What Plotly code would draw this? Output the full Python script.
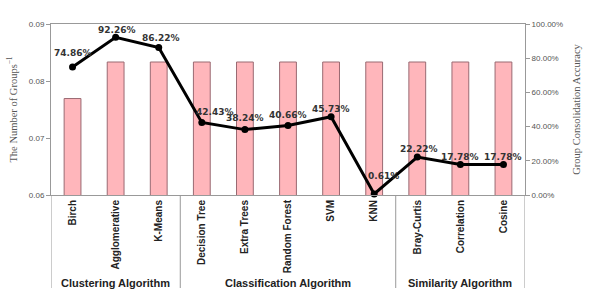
import plotly.graph_objects as go

categories = ["Birch", "Agglomerative", "K-Means", "Decision Tree", "Extra Trees",
              "Random Forest", "SVM", "KNN", "Bray-Curtis", "Correlation", "Cosine"]
groups_inv = [1/13, 1/12, 1/12, 1/12, 1/12, 1/12, 1/12, 1/12, 1/12, 1/12, 1/12]
accuracy = [74.86, 92.26, 86.22, 42.43, 38.24, 40.66, 45.73, 0.61, 22.22, 17.78, 17.78]
group_names = ["Clustering Algorithm", "Classification Algorithm", "Similarity Algorithm"]
group_spans = [(0, 2), (3, 7), (8, 10)]
label_dx = [0, 1, 2, 13, 0, 0, 0, 9, 2, 0, 0]
label_dy = [14, 7, 10, 10, 12, 10, 8, 18, 8, 8, 8]

x = list(range(len(categories)))

fig = go.Figure()
fig.add_trace(go.Bar(
    x=x, y=groups_inv, width=0.39,
    marker=dict(color="#FFB6BB", line=dict(color="#9A6A72", width=1)),
    yaxis="y", showlegend=False, hoverinfo="skip",
))
fig.add_trace(go.Scatter(
    x=x, y=accuracy, yaxis="y2", mode="lines+markers",
    line=dict(color="black", width=3), marker=dict(color="black", size=7),
    showlegend=False, cliponaxis=False, hoverinfo="skip",
))

for i, v in enumerate(accuracy):
    fig.add_annotation(
        x=i, y=v, xref="x", yref="y2", text=f"{v:.2f}%", showarrow=False,
        xanchor="center", yanchor="middle", xshift=label_dx[i], yshift=label_dy[i],
        font=dict(family="DejaVu Sans", size=9, color="#333333", weight="bold"),
    )

fig.update_layout(
    width=593, height=301,
    margin=dict(l=46, r=67, t=24, b=106),
    paper_bgcolor="white", plot_bgcolor="white",
    xaxis=dict(
        tickmode="array", tickvals=x, ticktext=categories, tickangle=-90,
        tickfont=dict(family="Liberation Sans", size=10, color="#222222", weight="bold"),
        range=[-0.5, len(categories) - 0.5],
        showline=True, linecolor="#999999", linewidth=1, mirror=True,
        ticks="", showgrid=False, zeroline=False,
    ),
    yaxis=dict(
        range=[0.06, 0.09], dtick=0.01, tickformat=".2f",
        tickfont=dict(family="Liberation Sans", size=8, color="#555555"),
        showline=True, linecolor="#999999", linewidth=1,
        ticks="outside", ticklen=4, tickcolor="#999999",
        showgrid=False, zeroline=False,
        title=dict(text="The Number of Groups<sup>−1</sup>",
                   font=dict(family="Liberation Serif", size=10.5, color="#555555"), standoff=9),
    ),
    yaxis2=dict(
        range=[0, 100], overlaying="y", side="right",
        tickvals=[0, 20, 40, 60, 80, 100],
        ticktext=[f"{v:.2f}%" for v in [0, 20, 40, 60, 80, 100]],
        tickfont=dict(family="Liberation Sans", size=8, color="#555555"),
        showline=True, linecolor="#999999", linewidth=1,
        ticks="outside", ticklen=4, tickcolor="#999999",
        showgrid=False, zeroline=False,
        title=dict(text="Group Consolidation Accuracy",
                   font=dict(family="Liberation Serif", size=10.5, color="#555555"), standoff=10),
    ),
)

# group separators
bottom = -(288 - 195) / 171
for b in [-0.5, 2.5, 7.5, len(categories) - 0.5]:
    fig.add_shape(type="line", xref="x", yref="paper", x0=b, x1=b, y0=0, y1=bottom,
                  line=dict(color="#999999", width=1))

for name, (a, b) in zip(group_names, group_spans):
    fig.add_annotation(
        x=(a + b) / 2, y=-(283 - 195) / 171, xref="x", yref="paper",
        text=name, showarrow=False, yanchor="middle",
        font=dict(family="Liberation Sans", size=11, color="#222222", weight="bold"),
    )

fig.write_html("out.html")
